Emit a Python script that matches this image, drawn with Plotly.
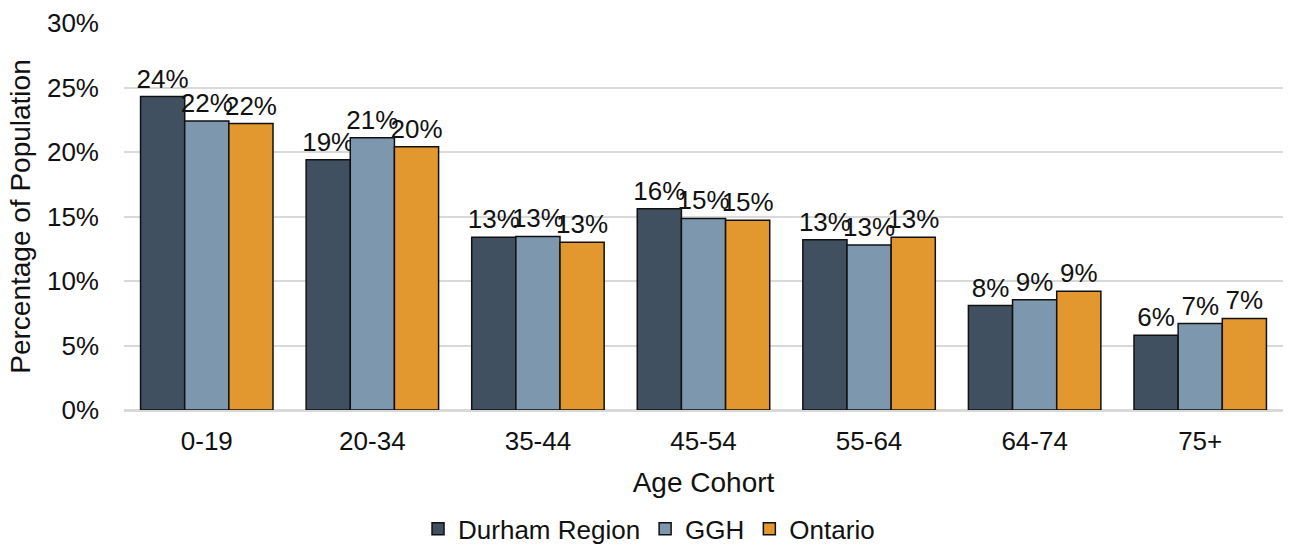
import plotly.graph_objects as go

categories = ["0-19", "20-34", "35-44", "45-54", "55-64", "64-74", "75+"]
durham = [0.243, 0.194, 0.134, 0.156, 0.132, 0.081, 0.058]
ggh = [0.224, 0.211, 0.1345, 0.1485, 0.128, 0.0855, 0.067]
ontario = [0.222, 0.204, 0.130, 0.147, 0.134, 0.092, 0.071]
series_names = ["Durham Region", "GGH", "Ontario"]
colors = ["#415061", "#7D98AE", "#E3972F"]
yticks = [0, 0.05, 0.10, 0.15, 0.20, 0.25, 0.30]

FONT = "Liberation Sans, Arial, sans-serif"
INK = "#111111"

fig = go.Figure()
for name, vals, col in zip(series_names, [durham, ggh, ontario], colors):
    fig.add_trace(go.Bar(
        x=categories, y=vals, name=name,
        marker=dict(color=col, line=dict(color=INK, width=1.5)),
        texttemplate="%{y:.0%}", textposition="outside",
        textfont=dict(size=26, color=INK, family=FONT),
        constraintext="none", cliponaxis=False,
    ))

fig.update_layout(
    width=1297, height=546,
    margin=dict(l=124, r=14, t=23, b=136, autoexpand=False),
    paper_bgcolor="white", plot_bgcolor="white",
    barmode="group", bargap=0.2, bargroupgap=0,
    font=dict(family=FONT, size=26, color=INK),
    showlegend=True,
    legend=dict(orientation="h", x=0.453, xanchor="center", y=-0.307, yanchor="middle",
                font=dict(size=26, family=FONT, color=INK),
                itemwidth=30, traceorder="normal", tracegroupgap=0),
    xaxis=dict(
        title=dict(text="Age Cohort", font=dict(size=28, family=FONT, color=INK), standoff=17),
        tickfont=dict(size=26, family=FONT, color=INK),
        showline=True, linecolor="#D9D9D9", linewidth=1.5,
        ticks="", showgrid=False, ticklabelstandoff=7,
    ),
    yaxis=dict(
        title=dict(text="Percentage of Population", font=dict(size=28, family=FONT, color=INK), standoff=8),
        tickvals=yticks, tickformat=".0%", range=[0, 0.30],
        tickfont=dict(size=26, family=FONT, color=INK),
        showgrid=True, gridcolor="#D9D9D9", gridwidth=1.5,
        zeroline=True, zerolinecolor="#D9D9D9", zerolinewidth=1.5,
        ticks="", ticklabelstandoff=24,
    ),
)

fig.write_html("out.html", config={"displayModeBar": False},
               post_script="document.body.style.margin='0';document.body.style.overflow='hidden';")
